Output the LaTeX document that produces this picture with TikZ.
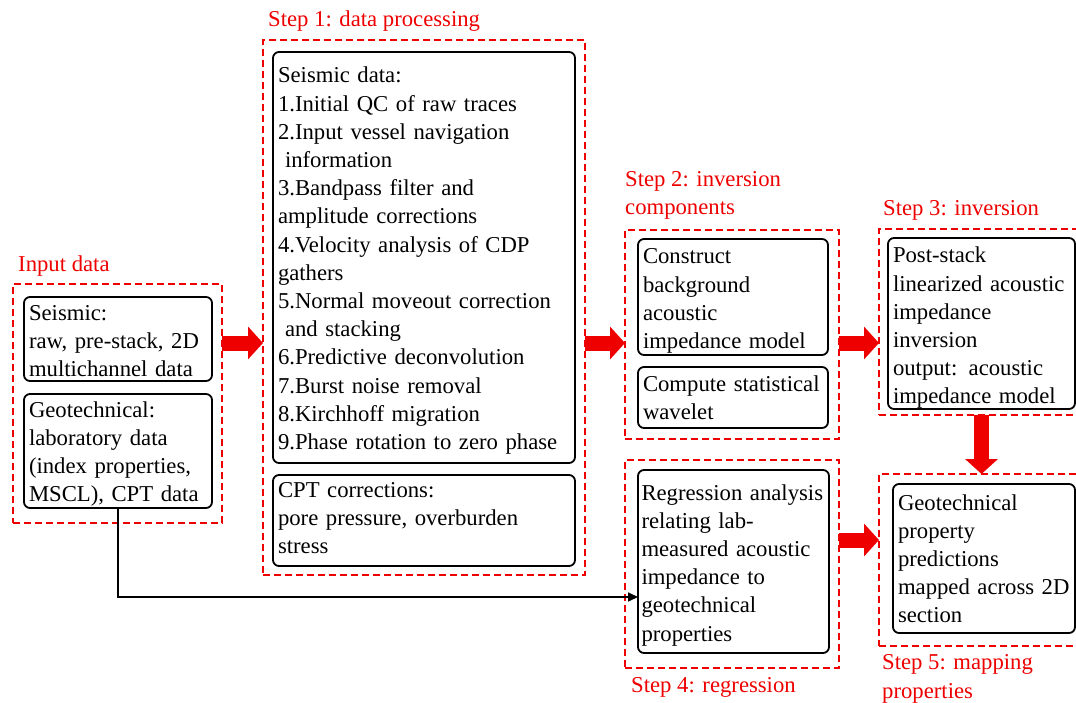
\documentclass[tikz,border=0pt]{standalone}
\usepackage{fontspec}
\setmainfont{Liberation Serif}
\usetikzlibrary{arrows.meta,positioning}
\definecolor{StepRed}{HTML}{EE0000}
\hyphenpenalty=10000
\tikzset{every node/.style={font=\fontsize{22.7}{28.2}\selectfont},
 frame/.style={draw=StepRed,line width=2.2pt,dash pattern=on 7pt off 4pt,
 anchor=north west,inner sep=0pt,outer sep=0pt},
 procbox/.style={draw,line width=1.8pt,rounded corners=6pt,anchor=north west,
 align=left,inner xsep=5pt,inner ysep=5pt,outer sep=0pt,text height=18pt},
 steplabel/.style={text=StepRed,anchor=base west,align=left,inner sep=0pt},
 bigarrow/.style={draw=StepRed,line width=15pt,-{Triangle[length=15pt,width=32pt]}},
 geoline/.style={draw,line width=1.6pt,-{Triangle[length=10pt,width=9pt]}}}
\begin{document}
\begin{tikzpicture}[x=1pt,y=-1pt]
\useasboundingbox (0,0) rectangle (1076,703);
% Dashed frames around the input and the five steps.
\node[frame,minimum width=209pt,minimum height=239pt] (inframe) at (13,284) {};
\node[frame,minimum width=322pt,minimum height=535pt] (s1frame) at (263,40) {};
\node[frame,minimum width=214pt,minimum height=209pt] (s2frame) at (625,230) {};
\node[frame,minimum width=205pt,minimum height=186pt] (s3frame) at (879,229) {};
\node[frame,minimum width=214pt,minimum height=208pt] (s4frame) at (625,460) {};
\node[frame,minimum width=205pt,minimum height=172pt] (s5frame) at (879,474) {};
% Two-line labels sit on the baseline of their last line.
\node[steplabel] (inlabel) at (18,272) {Input data};
\node[steplabel] (s1label) at (268,27) {Step 1: data processing};
\node[steplabel] (s2label) at (625,215) {Step 2: inversion\\components};
\node[steplabel] (s3label) at (883,216) {Step 3: inversion};
\node[steplabel] (s4label) at (631,692) {Step 4: regression};
\node[steplabel] (s5label) at (882,698) {Step 5: mapping\\properties};
% Process boxes, text set from the top edge.
\node[procbox,text width=178pt,text depth=56pt] (inseis) at (24,297)
 {Seismic:\\raw, pre-stack, 2D\\multichannel data};
\node[procbox,text width=178pt,text depth=86pt] (ingeo) at (24,394)
 {Geotechnical:\\laboratory data\\(index properties,\\MSCL), CPT data};
\node[procbox,text width=292pt,text height=26pt,text depth=375pt] (s1seis) at (273,52)
 {Seismic data:\\1.Initial QC of raw traces\\2.Input vessel navigation\\
 \hspace*{7pt}information\\3.Bandpass filter and\\amplitude corrections\\
 4.Velocity analysis of CDP\\gathers\\5.Normal moveout correction\\
 \hspace*{7pt}and stacking\\6.Predictive deconvolution\\7.Burst noise removal\\
 8.Kirchhoff migration\\9.Phase rotation to zero phase};
\node[procbox,text width=292pt,text height=17pt,text depth=64pt] (s1cpt) at (273,475)
 {CPT corrections:\\pore pressure, overburden\\stress};
\node[procbox,text width=180pt,text height=20pt,text depth=86pt] (s2con) at (638,239)
 {Construct\\background\\acoustic\\impedance model};
\node[procbox,text width=180pt,text height=19pt,text depth=32pt] (s2wav) at (638,367)
 {Compute statistical\\wavelet};
\node[procbox,text width=177pt,text height=20pt,text depth=141pt] (s3box) at (888,238)
 {Post-stack\\linearized acoustic\\impedance\\inversion\\output: acoustic\\impedance model};
\node[procbox,inner xsep=3.5pt,text width=184pt,text height=25pt,text depth=148pt] (s4box) at (638,470)
 {Regression analysis\\relating lab-\\measured acoustic\\impedance to\\geotechnical\\properties};
\node[procbox,text width=172pt,text height=21pt,text depth=118pt] (s5box) at (893,484)
 {Geotechnical\\property\\predictions\\mapped across 2D\\section};
% Flow between the steps.
\coordinate (rowA) at (0,343);
\coordinate (rowB) at (0,540);
\coordinate (rowC) at (0,597);
\draw[bigarrow] (inframe.east |- rowA) -- (s1frame.west |- rowA);
\draw[bigarrow] (s1frame.east |- rowA) -- (s2frame.west |- rowA);
\draw[bigarrow] (s2frame.east |- rowA) -- (s3frame.west |- rowA);
\draw[bigarrow] (s3frame.south) -- (s5frame.north);
\draw[bigarrow] (s4frame.east |- rowB) -- (s5frame.west |- rowB);
\draw[geoline] (ingeo.south) |- (s4box.west |- rowC);
\end{tikzpicture}
\end{document}
